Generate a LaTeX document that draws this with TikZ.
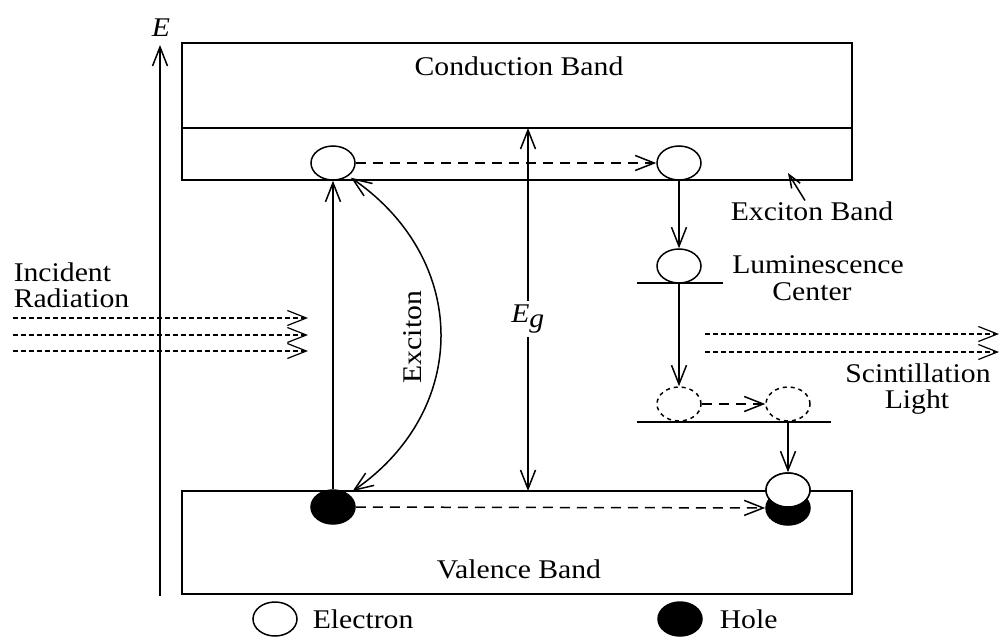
\documentclass[tikz,border=0pt]{standalone}
\usepackage{fontspec}
\setmainfont{Liberation Serif}[FakeStretch=1.1]
\usetikzlibrary{arrows.meta,shapes.geometric}
\begin{document}
\begin{tikzpicture}[x=1pt,y=-1pt, line width=1.5pt,
  >={Straight Barb[length=19pt,width=15pt]},
  lbl/.style={font=\fontsize{27}{29}\selectfont, inner sep=0pt},
  elec/.style={ellipse, draw, fill=white, minimum width=44pt, minimum height=34pt, inner sep=0pt},
  holeb/.style={ellipse, draw, fill=black, minimum width=44pt, minimum height=34pt, inner sep=0pt},
  ghost/.style={ellipse, draw, dash pattern=on 4pt off 4pt, minimum width=44pt, minimum height=34pt, inner sep=0pt},
  bandarr/.style={->, dash pattern=on 10pt off 7pt},
  rayarr/.style={->, dash pattern=on 5pt off 3pt, line width=1.2pt},
  smallarr/.style={->, >={Straight Barb[length=13pt,width=10pt]}}]
\useasboundingbox (0,0) rectangle (1001,637);

% energy axis
\coordinate (axb) at (160,596);
\coordinate (axt) at (160,45);
\draw[->] (axb) -- (axt);
\node[lbl] (E) at (161,28) {\textit{E}};

% bands
\draw (182,43) rectangle (852,180);
\draw (182,128) -- (852,128);
\draw (182,491) rectangle (852,594);
\node[lbl, anchor=base] (cbt) at (519,75) {Conduction Band};
\node[lbl, anchor=base] (vbt) at (519,578) {Valence Band};

% carriers
\node[elec] (e1) at (333,163) {};
\node[elec] (e2) at (679,163) {};
\node[holeb] (h1) at (333,507) {};
\node[elec] (l1) at (679,266) {};
\node[ghost] (d1) at (679,404) {};
\node[ghost] (d2) at (788,404) {};
\node[holeb] (hb) at (788,508) {};
\node[elec] (wb) at (788,490) {};

% levels
\draw (637,283) -- (723,283);
\draw (637,422) -- (831,422);

% transitions
\draw[bandarr] (e1) -- (e2);
\draw[->] (h1.north) -- (e1.south);
\draw[<->, shorten <=3pt, shorten >=5pt] (e1.-40) .. controls (470,260) and (470,410) .. (h1.40);
\node[lbl, rotate=90] (exl) at (413,337) {Exciton};

\coordinate (egt) at (528,128);
\coordinate (egb) at (528,491);
\draw[<->] (egt) -- (egb);
\node[lbl, fill=white, inner xsep=2pt, inner ysep=4pt] (eg) at (528,319) {$\textit{E}_{\textit{g}}$};

\draw[->] (e2.south) -- (l1.north);
\draw[->] (l1.south) -- (d1.north);
\draw[bandarr] (d1) -- (d2);
\draw[->] (d2.south) -- (wb.north);
\draw[bandarr] (h1) -- (hb);
\node[elec] at (wb) {};

% exciton band label
\node[lbl, anchor=base] (exb) at (812,220) {Exciton Band};
\coordinate (ptr) at (788,173);
\draw[smallarr] ([xshift=-7pt]exb.north) -- (ptr);

% luminescence center
\node[lbl, anchor=base] (lum1) at (818,273) {Luminescence};
\node[lbl, anchor=base] (lum2) at (812,300) {Center};

% incident radiation
\node[lbl, anchor=base west] (inc1) at (13,281) {Incident};
\node[lbl, anchor=base west] (inc2) at (13,307) {Radiation};
\foreach \yy/\nm in {318/a,335/b,351/c}{
  \coordinate (ri\nm) at (13,\yy);
  \coordinate (ro\nm) at (308,\yy);
  \draw[rayarr] (ri\nm) -- (ro\nm);
}

% scintillation light
\foreach \yy/\nm in {334/a,352/b}{
  \coordinate (si\nm) at (705,\yy);
  \coordinate (so\nm) at (999,\yy);
  \draw[rayarr] (si\nm) -- (so\nm);
}
\node[lbl, anchor=base] (sc1) at (918,382) {Scintillation};
\node[lbl, anchor=base] (sc2) at (917,408) {Light};

% legend
\node[elec] (lge) at (275,619) {};
\node[lbl, anchor=base west] (lgel) at (312,628) {Electron};
\node[holeb] (lgh) at (680,619) {};
\node[lbl, anchor=base west] (lghl) at (719,628) {Hole};
\end{tikzpicture}
\end{document}
